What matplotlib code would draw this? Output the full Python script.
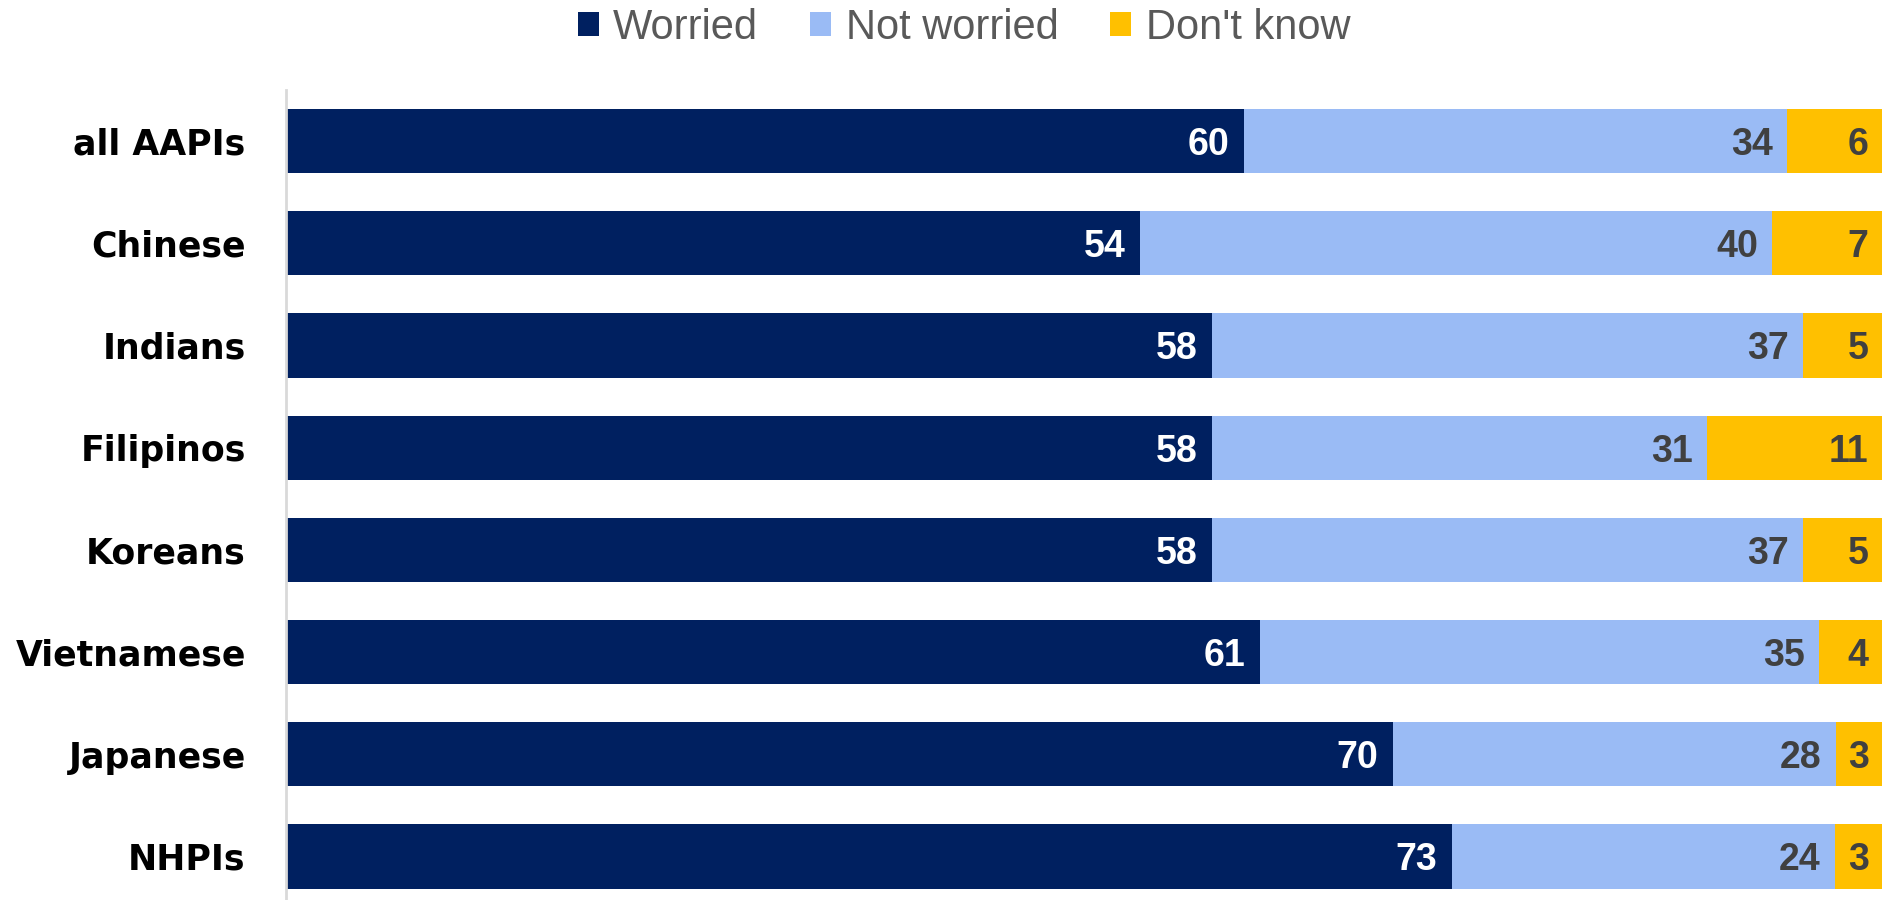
import matplotlib
matplotlib.use('Agg')
import matplotlib.pyplot as plt
import numpy as np

# datos
grupos = ['all AAPIs', 'Chinese', 'Indians', 'Filipinos', 'Koreans', 'Vietnamese', 'Japanese', 'NHPIs']
worried = [60, 54, 58, 58, 58, 61, 70, 73]
not_worried = [34, 40, 37, 31, 37, 35, 28, 24]
dont_know = [6, 7, 5, 11, 5, 4, 3, 3]
series_names = ['Worried', 'Not worried', "Don't know"]
colores = ['#002060', '#9ABBF5', '#FFC000']
colores_texto = ['white', '#404040', '#404040']

# barras 100% apiladas (cada fila se normaliza a su total)
datos = np.array([worried, not_worried, dont_know], dtype=float)
totales = datos.sum(axis=0)
pct = datos / totales * 100

fig = plt.figure(figsize=(18.83, 9), dpi=100)
ax = fig.add_axes([286 / 1883, 0, 1 - 286 / 1883, 0.9])

y = np.arange(len(grupos))
izq = np.zeros(len(grupos))
barras = []
for vals, p, nombre, color, ctexto in zip(datos, pct, series_names, colores, colores_texto):
    b = ax.barh(y, p, left=izq, height=0.63, color=color, label=nombre)
    barras.append(b)
    fin = izq + p
    for yi, v, f in zip(y, vals, fin):
        ax.text(f - 0.9, yi, f'{int(v)}', ha='right', va='center_baseline',
                color=ctexto, fontsize=27, fontweight='bold',
                family=['Liberation Sans', 'DejaVu Sans'])
    izq = fin

ax.set_xlim(0, 100)
ax.set_ylim(7 + 43.5 / 102.2, -0.5)
ax.set_yticks(y)
ax.set_yticklabels(grupos, fontsize=25, fontweight='bold', family=['DejaVu Sans'])
ax.tick_params(axis='y', length=0, pad=29)
ax.set_xticks([])
for lado in ['top', 'right', 'bottom']:
    ax.spines[lado].set_visible(False)
ax.spines['left'].set_color('#D9D9D9')
ax.spines['left'].set_linewidth(2)

leg = fig.legend(handles=barras, labels=series_names, loc='center',
                 bbox_to_anchor=(964 / 1883, 1 - 28 / 900), ncol=3, frameon=False,
                 prop={'family': ['Liberation Sans Narrow', 'Liberation Sans'], 'size': 30},
                 handlelength=0.5, handleheight=0.5, handletextpad=0.35, columnspacing=1.25)
for t in leg.get_texts():
    t.set_color('#595959')

plt.savefig('out.png', dpi=100)
